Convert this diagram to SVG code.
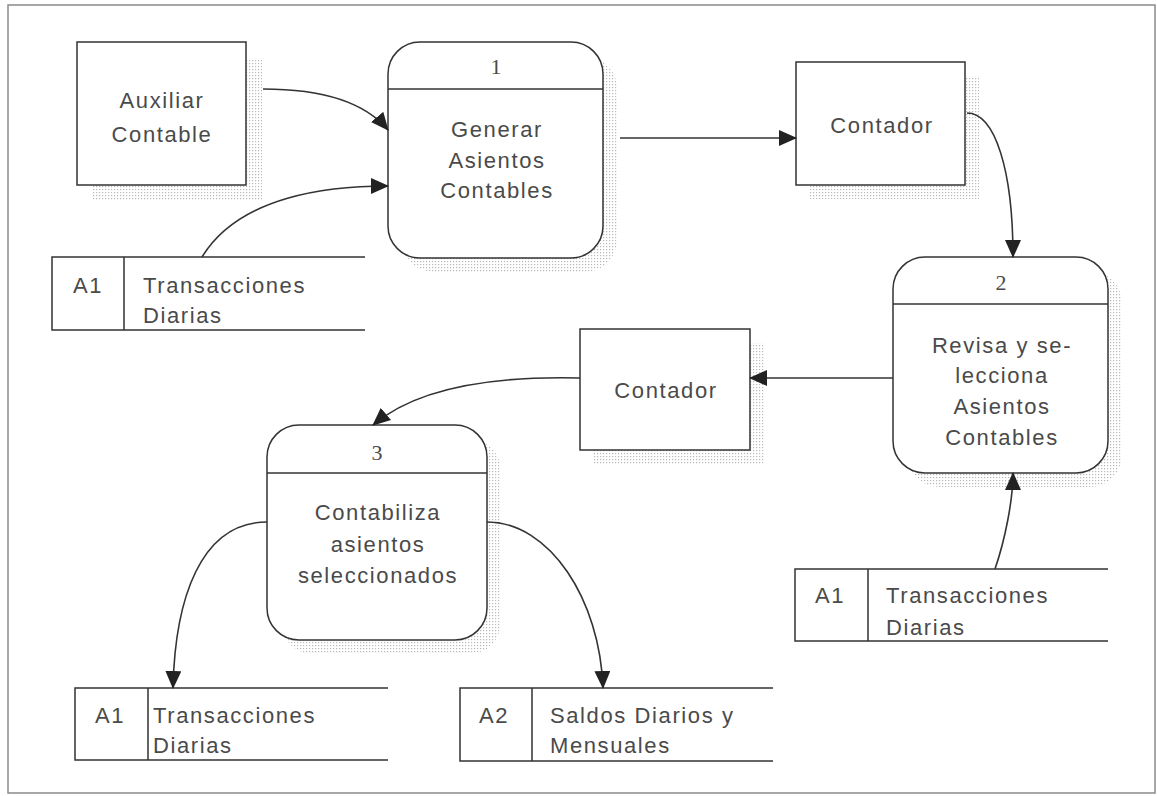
<svg xmlns="http://www.w3.org/2000/svg" width="1157" height="796" viewBox="0 0 1157 796">
<style>
.frame{fill:#fff;stroke:#8a8a8a;stroke-width:1.5}
.box{fill:#fff;stroke:#333;stroke-width:1.5}
.ln{fill:none;stroke:#333;stroke-width:1.5}
.sh{fill:url(#dots)}
.t{font-family:"Liberation Sans",Arial,sans-serif;font-size:22px;letter-spacing:1.6px;fill:#4a4a4a;text-anchor:middle}
.tl{font-family:"Liberation Sans",Arial,sans-serif;font-size:22px;letter-spacing:1.6px;fill:#4a4a4a}
.n{font-family:"Liberation Serif","Times New Roman",serif;font-size:22px;fill:#4a4a4a;text-anchor:middle}
.c{fill:none;stroke:#333;stroke-width:1.6;marker-end:url(#ah)}
</style>
<defs>
<pattern id="dots" width="3" height="3" patternUnits="userSpaceOnUse">
<rect x="0" y="0" width="1.2" height="1.2" fill="#b8b8b8"/>
</pattern>
<marker id="ah" markerUnits="userSpaceOnUse" markerWidth="18" markerHeight="16" refX="17" refY="8" orient="auto">
<path d="M0,0 L18,8 L0,16 Z" fill="#222"/>
</marker>
</defs>
<rect class="frame" x="8" y="5" width="1147" height="788"/>

<g id="auxiliar">
<rect class="sh" x="93" y="58" width="169" height="143"/>
<rect class="box" x="77" y="42" width="169" height="143"/>
<text class="t" x="162" y="108">Auxiliar</text>
<text class="t" x="162" y="142">Contable</text>
</g>

<g id="store-a1-top">
<path class="ln" d="M365,257 H52 V330 H365 M124,257 V330"/>
<text class="tl" x="73" y="293">A1</text>
<text class="tl" x="143" y="293">Transacciones</text>
<text class="tl" x="143" y="323">Diarias</text>
</g>

<g id="proc1">
<rect class="sh" x="402" y="56" width="215" height="216" rx="32"/>
<rect class="box" x="388" y="42" width="215" height="216" rx="32"/>
<line class="ln" x1="388" y1="89" x2="603" y2="89"/>
<text class="n" x="496" y="74">1</text>
<text class="t" x="497" y="137">Generar</text>
<text class="t" x="497" y="168">Asientos</text>
<text class="t" x="497" y="198">Contables</text>
</g>

<g id="contador1">
<rect class="sh" x="810" y="76" width="169" height="123"/>
<rect class="box" x="796" y="62" width="169" height="123"/>
<text class="t" x="882" y="133">Contador</text>
</g>

<g id="proc2">
<rect class="sh" x="907" y="271" width="215" height="216" rx="32"/>
<rect class="box" x="893" y="257" width="215" height="216" rx="32"/>
<line class="ln" x1="893" y1="304" x2="1108" y2="304"/>
<text class="n" x="1001" y="290">2</text>
<text class="t" x="1002" y="353">Revisa y se-</text>
<text class="t" x="1002" y="383">lecciona</text>
<text class="t" x="1002" y="414">Asientos</text>
<text class="t" x="1002" y="445">Contables</text>
</g>

<g id="contador2">
<rect class="sh" x="594" y="343" width="170" height="121"/>
<rect class="box" x="580" y="329" width="170" height="121"/>
<text class="t" x="666" y="398">Contador</text>
</g>

<g id="proc3">
<rect class="sh" x="281" y="439" width="220" height="215" rx="32"/>
<rect class="box" x="267" y="425" width="220" height="215" rx="32"/>
<line class="ln" x1="267" y1="473" x2="487" y2="473"/>
<text class="n" x="377" y="460">3</text>
<text class="t" x="378" y="520">Contabiliza</text>
<text class="t" x="378" y="552">asientos</text>
<text class="t" x="378" y="583">seleccionados</text>
</g>

<g id="store-a1-right">
<path class="ln" d="M1108,569 H795 V641 H1108 M868,569 V641"/>
<text class="tl" x="815" y="603">A1</text>
<text class="tl" x="886" y="603">Transacciones</text>
<text class="tl" x="886" y="635">Diarias</text>
</g>

<g id="store-a1-bottom">
<path class="ln" d="M388,688 H75 V760 H388 M148,688 V760"/>
<text class="tl" x="95" y="723">A1</text>
<text class="tl" x="153" y="723">Transacciones</text>
<text class="tl" x="153" y="753">Diarias</text>
</g>

<g id="store-a2">
<path class="ln" d="M773,688 H460 V761 H773 M532,688 V761"/>
<text class="tl" x="479" y="723">A2</text>
<text class="tl" x="550" y="723">Saldos Diarios y</text>
<text class="tl" x="550" y="753">Mensuales</text>
</g>

<g id="connectors">
<path class="c" d="M263,89 C330,89 368,106 388,130"/>
<path class="c" d="M202,257 C240,195 330,186 388,186"/>
<path class="c" d="M620,138 L796,138"/>
<path class="c" d="M967,113 C995,113 1013,170 1013,257"/>
<path class="c" d="M893,378 L750,378"/>
<path class="c" d="M580,378 C500,376 420,385 373,425"/>
<path class="c" d="M267,522 C200,522 175,600 173,688"/>
<path class="c" d="M487,522 C550,522 600,600 603,688"/>
<path class="c" d="M995,569 C1005,540 1013,500 1013,473"/>
</g>
</svg>
